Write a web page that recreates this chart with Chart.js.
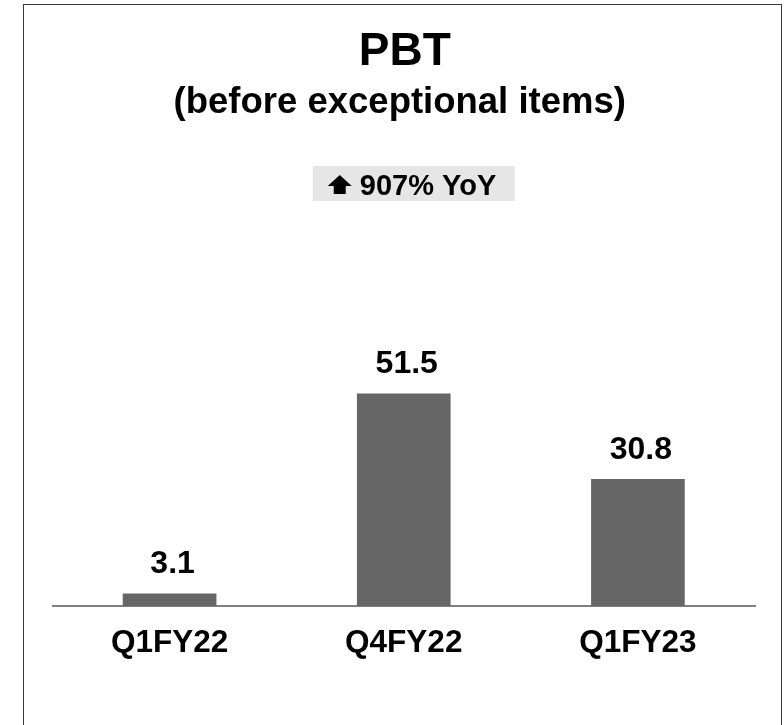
<!DOCTYPE html>
<html>
<head>
<meta charset="utf-8">
<script src="https://cdn.jsdelivr.net/npm/chart.js@4"></script>
<style>
  html, body { margin: 0; padding: 0; background: #fff; overflow: hidden; }
  #wrap { position: relative; width: 784px; height: 725px; }
  #frame { position: absolute; left: 23px; top: 4px; width: 759px; height: 780px;
           border: 1px solid #3a3a3a; box-sizing: border-box; pointer-events: none; }
</style>
</head>
<body>
<div id="wrap">
  <canvas id="chart" width="784" height="725"></canvas>
  <div id="frame"></div>
</div>
<script>
const categories = ["Q1FY22", "Q4FY22", "Q1FY23"];
const pbtValues = [3.1, 51.5, 30.8];
const titleText = "PBT";
const subtitleText = "(before exceptional items)";
const badgeText = "907% YoY";

const FONT = '"Liberation Sans", Arial, sans-serif';

// titles, YoY badge and value labels
const decorations = {
  id: "decorations",
  afterDatasetsDraw(chart) {
    const ctx = chart.ctx;
    const area = chart.chartArea;
    const cx = (area.left + area.right) / 2;
    ctx.save();
    ctx.fillStyle = "#000";
    ctx.textAlign = "center";
    ctx.textBaseline = "alphabetic";

    ctx.font = `bold 46px ${FONT}`;
    ctx.fillText(titleText, cx + 1, 65);
    ctx.font = `bold 36.5px ${FONT}`;
    ctx.fillText(subtitleText, cx - 4, 113);

    // badge
    const bx = cx - 91, by = 166;
    ctx.fillStyle = "#e7e6e6";
    ctx.fillRect(bx, by, 202, 35);
    ctx.fillStyle = "#000";
    const ax = bx + 27;
    ctx.beginPath();
    ctx.moveTo(ax - 12, 186);
    ctx.lineTo(ax, 175);
    ctx.lineTo(ax + 12, 186);
    ctx.lineTo(ax + 6, 186);
    ctx.lineTo(ax + 6, 194);
    ctx.lineTo(ax - 6, 194);
    ctx.lineTo(ax - 6, 186);
    ctx.closePath();
    ctx.fill();
    ctx.font = `bold 29px ${FONT}`;
    ctx.textAlign = "left";
    ctx.fillText(badgeText, bx + 47, 195);

    // value labels
    ctx.textAlign = "center";
    ctx.font = `bold 32px ${FONT}`;
    const meta = chart.getDatasetMeta(0);
    meta.data.forEach((bar, i) => {
      ctx.fillText(pbtValues[i].toFixed(1), bar.x + 3, bar.y - 20);
    });
    ctx.restore();
  }
};

new Chart(document.getElementById("chart"), {
  type: "bar",
  data: {
    labels: categories,
    datasets: [{
      data: pbtValues,
      backgroundColor: "#666666",
      borderWidth: 0,
      categoryPercentage: 1,
      barPercentage: 0.4
    }]
  },
  options: {
    responsive: false,
    animation: false,
    events: [],
    layout: { padding: { left: 52.5, right: 29, top: 317, bottom: 45 } },
    plugins: {
      legend: { display: false },
      tooltip: { enabled: false }
    },
    scales: {
      x: {
        grid: { display: false, drawTicks: false, tickLength: 0 },
        border: { display: true, color: "#808080", width: 2 },
        ticks: {
          color: "#000",
          padding: 18,
          font: { family: FONT, size: 31.5, weight: "bold" }
        }
      },
      y: {
        display: false,
        min: 0,
        max: 70
      }
    }
  },
  plugins: [decorations]
});
</script>
</body>
</html>
